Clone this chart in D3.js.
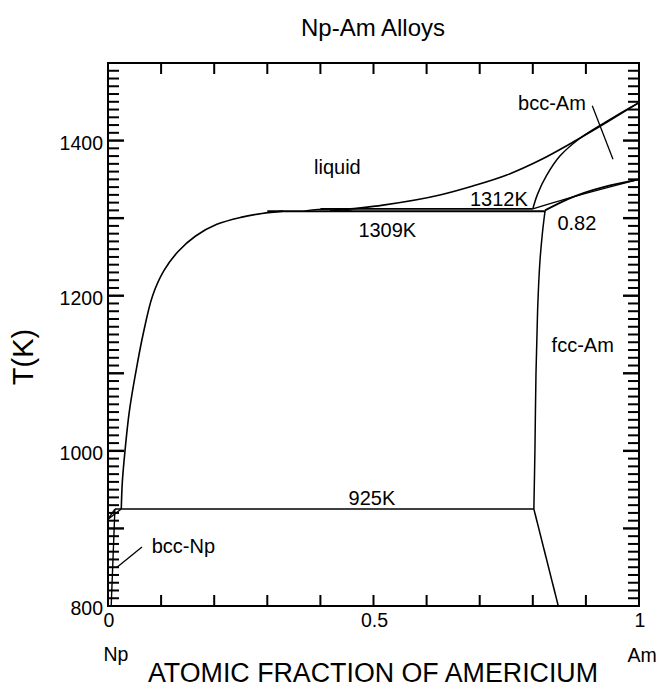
<!DOCTYPE html>
<html>
<head>
<meta charset="utf-8">
<script src="https://cdn.jsdelivr.net/npm/d3@7"></script>
<style>
  body { margin: 0; background: #fff; }
  svg { display: block; }
  text { font-family: "Liberation Sans", Arial, Helvetica, sans-serif; fill: #000; }
</style>
</head>
<body>
<svg id="chart" width="659" height="689"></svg>
<script>
// Axis ranges and labelled ticks
const xDomain = [0, 1];
const yDomain = [800, 1500];
const xTickLabels = [0, 0.5, 1];
const yTickLabels = [800, 1000, 1200, 1400];

// Tick spacing: 10 K minor, 100 K major, 0.1 along composition
const yMinorTicks = [];
for (let t = 810; t < 1500; t += 10) if (t % 100 !== 0) yMinorTicks.push(t);
const yMajorTicks = [900, 1000, 1100, 1200, 1300, 1400];
const xTicksAll = [0.1, 0.2, 0.3, 0.4, 0.5, 0.6, 0.7, 0.8, 0.9];

// Phase boundaries, each point is [atomic fraction Am, T (K)]
const npLiquidus = [
  [0.025, 925], [0.027, 960], [0.032, 1000], [0.040, 1050], [0.052, 1100],
  [0.066, 1150], [0.084, 1200], [0.105, 1232], [0.132, 1257], [0.165, 1277],
  [0.205, 1292], [0.250, 1301], [0.290, 1306], [0.330, 1309]
];
const bccNpLiquidus = [[0.0, 912], [0.025, 925]];
const bccNpSolidus = [[0.0, 912], [0.013, 925]];
const bccNpSolvus = [[0.013, 925], [0.006, 800]];
const peritectic925 = [[0.013, 925], [0.802, 925]];
const line1309 = [[0.300, 1309], [0.824, 1309]];
const line1312 = [[0.400, 1312], [0.800, 1312]];
const smallLens = [[0.37, 1309], [0.395, 1311.3], [0.42, 1311.6], [0.445, 1310.2], [0.46, 1309]];
const amLiquidus = [
  [0.418, 1309.5], [0.518, 1316.8], [0.625, 1329.8], [0.687, 1341.4], [0.751, 1355.6],
  [0.814, 1374.9], [0.876, 1398.1], [0.940, 1423.9], [1.0, 1449]
];
const bccAmSolidus = [
  [0.800, 1312], [0.809, 1331], [0.826, 1355], [0.851, 1380], [0.889, 1403],
  [0.940, 1425], [0.974, 1439], [1.0, 1449]
];
const bccAmSolvus = [[0.800, 1312], [0.866, 1325.5], [1.0, 1350]];
const fccAmSolvusHigh = [[0.823, 1310], [0.866, 1324.5], [1.0, 1350]];
const fccAmBoundary = [
  [0.823, 1309], [0.818, 1280], [0.813, 1240], [0.809, 1180], [0.806, 1100],
  [0.804, 1000], [0.802, 925]
];
const fccAmSolvusLow = [[0.802, 925], [0.848, 800]];

// Region and temperature labels: [text, fraction Am, T (K)] for text baseline
const labels = [
  ["liquid", 0.432, 1357],
  ["1312K", 0.736, 1316],
  ["1309K", 0.526, 1276],
  ["0.82", 0.883, 1285],
  ["fcc-Am", 0.894, 1128],
  ["925K", 0.497, 930],
  ["bcc-Np", 0.142, 868],
  ["bcc-Am", 0.836, 1439]
];
// Leader lines [[x1,T1],[x2,T2]]
const leaders = [
  [[0.912, 1445], [0.951, 1376]],
  [[0.064, 876], [0.017, 850]]
];

const svg = d3.select("#chart");
const x = d3.scaleLinear().domain(xDomain).range([108, 639]);
const y = d3.scaleLinear().domain(yDomain).range([606, 63]);

const line = d3.line().x(d => x(d[0])).y(d => y(d[1]));
const smooth = d3.line().x(d => x(d[0])).y(d => y(d[1])).curve(d3.curveMonotoneX);
const smoothY = d3.line().x(d => x(d[0])).y(d => y(d[1])).curve(d3.curveCatmullRom);

const g = svg.append("g");

function draw(data, gen, w) {
  g.append("path").datum(data).attr("d", gen)
    .attr("fill", "none").attr("stroke", "#000")
    .attr("stroke-width", w || 1.6).attr("stroke-linejoin", "round");
}

draw(npLiquidus, smoothY);
draw(bccNpLiquidus, line, 1.4);
draw(bccNpSolidus, line, 1.4);
draw(bccNpSolvus, line, 1.4);
draw(peritectic925, line);
draw(line1309, line, 2);
draw(line1312, line, 1.6);
draw(smallLens, smooth, 1.2);
draw(amLiquidus, smooth);
draw(bccAmSolidus, smoothY, 1.5);
draw(bccAmSolvus, smooth, 1.4);
draw(fccAmSolvusHigh, smooth, 1.8);
draw(fccAmBoundary, smoothY, 1.5);
draw(fccAmSolvusLow, line, 1.5);

leaders.forEach(l => draw(l, line, 1.3));

// Inward tick marks on all four sides, drawn as small filled bars
const tickLayer = svg.append("g").attr("fill", "#000");
const x0 = x(xDomain[0]), x1 = x(xDomain[1]);
const yTop = y(yDomain[1]), yBot = y(yDomain[0]);

function sideTicks(values, len, w) {
  tickLayer.selectAll(null).data(values).enter().append("rect")
    .attr("x", x0).attr("y", d => y(d) - w / 2).attr("width", len).attr("height", w);
  tickLayer.selectAll(null).data(values).enter().append("rect")
    .attr("x", x1 - len).attr("y", d => y(d) - w / 2).attr("width", len).attr("height", w);
}
function endTicks(values, len, w) {
  tickLayer.selectAll(null).data(values).enter().append("rect")
    .attr("x", d => x(d) - w / 2).attr("y", yTop).attr("width", w).attr("height", len);
  tickLayer.selectAll(null).data(values).enter().append("rect")
    .attr("x", d => x(d) - w / 2).attr("y", yBot - len).attr("width", w).attr("height", len);
}
sideTicks(yMinorTicks, 11, 2);
sideTicks(yMajorTicks, 16, 2.4);
endTicks(xTicksAll, 11, 2);

// Frame
svg.append("rect").attr("x", x0).attr("y", yTop).attr("width", x1 - x0).attr("height", yBot - yTop)
  .attr("fill", "none").attr("stroke", "#000").attr("stroke-width", 2);

// Tick labels
svg.append("g").selectAll("text").data(yTickLabels).join("text")
  .attr("x", 103).attr("y", d => y(d) + 9)
  .attr("text-anchor", "end").attr("font-size", 19.5).text(d => d);
svg.append("g").selectAll("text").data(xTickLabels).join("text")
  .attr("x", d => x(d) + 1).attr("y", 627)
  .attr("text-anchor", "middle").attr("font-size", 19.5).text(d => d);

svg.append("text").attr("x", 116).attr("y", 661).attr("text-anchor", "middle")
  .attr("font-size", 19.5).text("Np");
svg.append("text").attr("x", 642).attr("y", 662).attr("text-anchor", "middle")
  .attr("font-size", 19.5).text("Am");

// Titles
svg.append("text").attr("x", 373).attr("y", 36).attr("text-anchor", "middle")
  .attr("font-size", 24).text("Np-Am Alloys");
svg.append("text").attr("x", 373).attr("y", 682).attr("text-anchor", "middle")
  .attr("font-size", 26.8).text("ATOMIC FRACTION OF AMERICIUM");
svg.append("text").attr("transform", "translate(33,357) rotate(-90)")
  .attr("text-anchor", "middle").attr("font-size", 29).text("T(K)");

// Region labels
svg.append("g").selectAll("text").data(labels).join("text")
  .attr("x", d => x(d[1])).attr("y", d => y(d[2]))
  .attr("text-anchor", "middle").attr("font-size", 20).text(d => d[0]);
</script>
</body>
</html>
